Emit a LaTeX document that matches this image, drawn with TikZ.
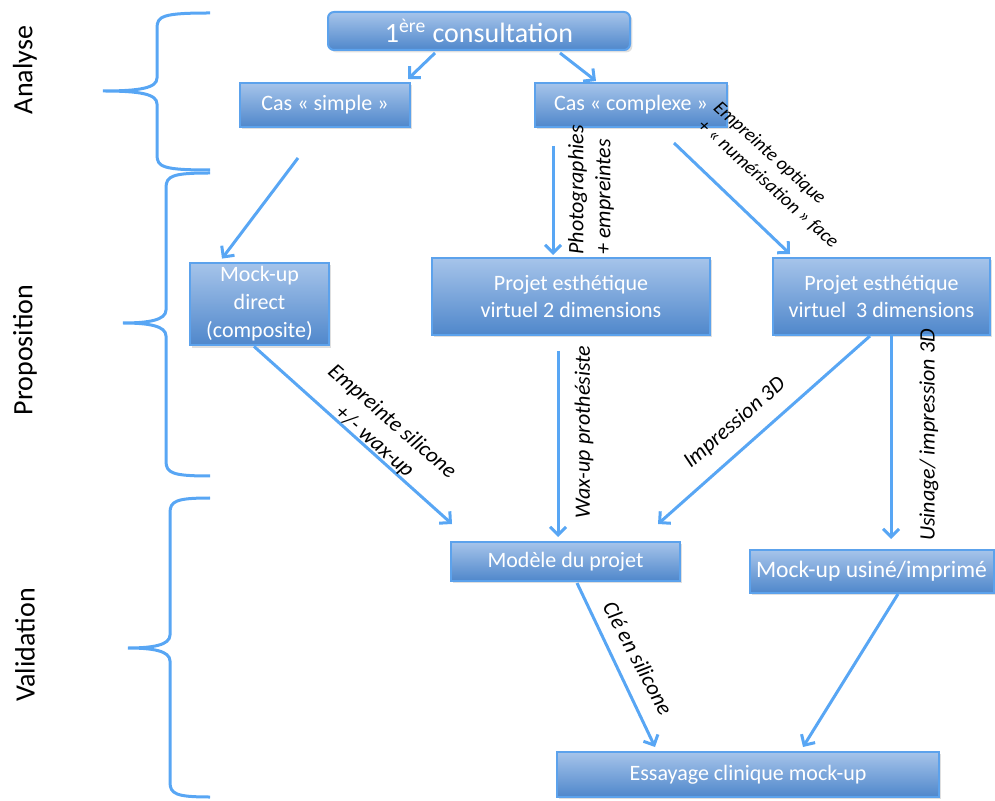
\documentclass[tikz,border=0pt]{standalone}
\usepackage{fontspec}
\setmainfont{Carlito}
\usetikzlibrary{arrows.meta,calc,shadows}
\definecolor{boxtop}{HTML}{A6C4EA}
\definecolor{boxbottom}{HTML}{4F87CB}
\definecolor{boxline}{HTML}{5CA2EC}
\definecolor{flow}{HTML}{58A6F4}

\begin{document}
\begin{tikzpicture}[x=.5pt,y=-.5pt,
box/.style={draw=boxline,line width=1pt,top color=boxtop,bottom color=boxbottom,text=white,font=\fontsize{11}{13.5}\selectfont,align=center,inner sep=2pt,drop shadow={opacity=.25,shadow xshift=1.2pt,shadow yshift=-1.2pt}},
flowarrow/.style={draw=flow,line width=1.5pt,-{Straight Barb[length=4pt,width=8pt]}},
brace/.style={draw=flow,line width=1.5pt},
steplabel/.style={font=\fontsize{11}{13.5}\selectfont\itshape,inner sep=0pt,align=center},
phase/.style={font=\fontsize{14}{16}\selectfont,rotate=90}]
\useasboundingbox (0,0) rectangle (995,801);
\node[box,rounded corners=3pt,minimum width=151pt,minimum height=19pt,font=\fontsize{14}{16}\selectfont] (consult) at (479,31) {1\textsuperscript{ère} consultation};
\node[box,minimum width=85pt,minimum height=22pt] (simple) at (325,105) {Cas « simple »};
\node[box,minimum width=96pt,minimum height=22pt] (complexe) at (631,105) {Cas « complexe »};
\node[box,minimum width=69.5pt,minimum height=39pt,font=\fontsize{11}{14}\selectfont] (direct) at (259.5,304) {Mock-up\\direct\\(composite)};
\node[box,minimum width=139pt,minimum height=38.5pt] (virt2d) at (571,296.5) {Projet esthétique\\virtuel 2 dimensions};
\node[box,minimum width=108.5pt,minimum height=38.5pt] (virt3d) at (881.5,296.5) {Projet esthétique\\virtuel\ \ 3 dimensions};
\node[box,minimum width=114.5pt,minimum height=19.5pt] (modele) at (565.5,561.5) {Modèle du projet};
\node[box,minimum width=122pt,minimum height=21.5pt,font=\fontsize{11.8}{14}\selectfont] (usine) at (871.5,571.5) {Mock-up usiné/imprimé};
\node[box,minimum width=191pt,minimum height=22.5pt] (essai) at (748,774.5) {Essayage clinique mock-up};
\draw[flowarrow] ($(consult.south)+(-44,2)$) -- ($(simple.north)+(83,-3)$);
\draw[flowarrow] ($(consult.south)+(81,2)$) -- ($(complexe.north)+(-35,-1)$);
\draw[flowarrow] ($(simple.south)+(-27,30)$) -- ($(direct.north)+(-37.5,-3)$);
\draw[flowarrow] ($(complexe.south)+(-78,18)$) -- ($(virt2d.north)+(-18,-2)$);
\draw[flowarrow] ($(complexe.south)+(43,15)$) -- ($(virt3d.north)+(-91.5,-3)$);
\draw[flowarrow] ($(direct.south)+(-5.5,0)$) -- ($(modele.north)+(-113.5,-17)$);
\draw[flowarrow] ($(virt2d.south)+(-13,15)$) -- ($(modele.north)+(-7.5,-4)$);
\draw[flowarrow] ($(virt3d.south)+(-11.5,0)$) -- ($(modele.north)+(92.5,-17)$);
\draw[flowarrow] ($(virt3d.south)+(9.5,0)$) -- ($(usine.north)+(19.5,-10)$);
\draw[flowarrow] ($(modele.south)+(11.5,1)$) -- ($(essai.north)+(-93,-4)$);
\draw[flowarrow] ($(usine.south)+(26.5,0)$) -- ($(essai.north)+(55,-4)$);
\node[steplabel,rotate=90,align=left] (photo) at (591,190) {Photographies\\+ empreintes};
\node[steplabel,rotate=-42,align=left,font=\fontsize{9.6}{12}\selectfont\itshape] (optique) at (776,175) {Empreinte optique\\+ « numérisation » face};
\node[steplabel,rotate=-41] (silicone) at (383,432) {Empreinte silicone\\+/- wax-up};
\node[steplabel,rotate=90] (waxup) at (584,432) {Wax-up prothésiste};
\node[steplabel,rotate=41] (impression) at (735,423) {Impression 3D};
\node[steplabel,rotate=90] (usinage) at (929,435) {Usinage/ impression 3D};
\node[steplabel,rotate=-62] (cle) at (638,658) {Clé en silicone};
\foreach \ya/\ym/\yb/\xv/\xt in {13/91/170/157/103,173/323/476/166/123,498/648/797/170/128}{
\draw[brace] (210,\ya) .. controls (\xv+6,\ya) and (\xv,\ya+3) .. (\xv,\ya+15) -- (\xv,\ym-13) .. controls (\xv,\ym-3) and (\xv-17,\ym) .. (\xt,\ym) .. controls (\xv-17,\ym) and (\xv,\ym+3) .. (\xv,\ym+13) -- (\xv,\yb-15) .. controls (\xv,\yb-3) and (\xv+6,\yb) .. (210,\yb);}
\node[phase] (analyse) at (25,70) {Analyse};
\node[phase] (proposition) at (25,350) {Proposition};
\node[phase] (validation) at (25,645) {Validation};
\end{tikzpicture}
\end{document}
